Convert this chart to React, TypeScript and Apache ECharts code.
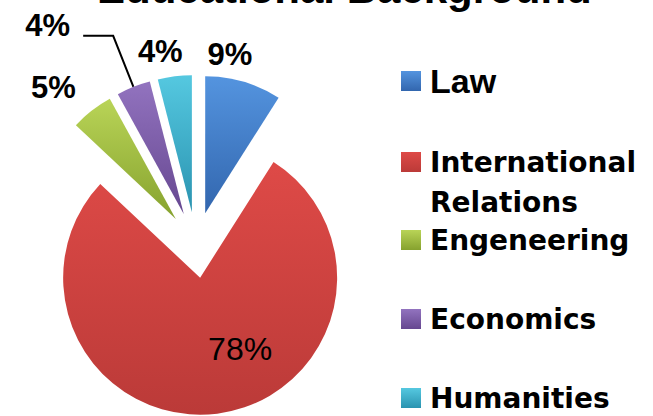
import React, { useEffect, useRef } from 'react';
import * as echarts from 'echarts';

const titleText = 'Educational Background';
const categories = ['Law', 'International Relations', 'Engeneering', 'Economics', 'Humanities'];
const values = [9, 78, 5, 4, 4];

const lightColors = ['#5494df', '#de4a47', '#b9d457', '#9273bf', '#55c8e0'];
const darkColors = ['#3266ae', '#bb3a38', '#86a22e', '#664790', '#2a93b0'];

export default function App() {
  const ref = useRef<HTMLDivElement>(null);
  useEffect(() => {
    const chart = echarts.init(ref.current as HTMLDivElement, null, { renderer: 'svg' });
    const grad = (i: number) =>
      new echarts.graphic.LinearGradient(0, 0, 0, 1, [
        { offset: 0, color: lightColors[i] },
        { offset: 1, color: darkColors[i] },
      ]);
    const labelShift = [[-41, -27], [31, 0], [-11, -23], [0, -10], [13, -25]];
    const data = categories.map((name, i) => {
      const item: any = { name, value: values[i], selected: true, itemStyle: { color: grad(i) } };
      if (i === 1) {
        item.label = { position: 'inside', fontWeight: 'normal', fontSize: 32 };
      } else if (i === 3) {
        item.label = { distanceToLabelLine: 13 };
        item.labelLine = { show: true, length: 55, length2: 30, lineStyle: { color: '#000', width: 2 } };
      } else {
        item.labelLine = { show: false, length: 0, length2: 0 };
      }
      return item;
    });
    const legendTops = [61, 102, 220, 299, 378];
    const legends = categories.map((name, i) => ({
      data: [name],
      orient: 'vertical',
      left: 401,
      top: legendTops[i],
      padding: 0,
      itemWidth: 20,
      itemHeight: 20,
      icon: 'rect',
      selectedMode: false,
      formatter: (n: string) => (n === 'International Relations' ? '\nInternational\nRelations' : n),
      textStyle:
        i === 0
          ? { fontFamily: 'Liberation Sans', fontWeight: 'bold', fontSize: 34, lineHeight: 40, color: '#000', padding: [0, 0, 0, 4] }
          : {
              fontFamily: 'DejaVu Sans',
              fontWeight: 'bold',
              fontSize: 28,
              lineHeight: 40,
              color: '#000',
              padding: [0, 0, 0, 4],
            },
    }));
    chart.setOption({
      animation: false,
      backgroundColor: '#fff',
      title: {
        text: titleText,
        left: 97,
        top: -33,
        padding: 0,
        textStyle: { fontFamily: 'Liberation Sans', fontWeight: 'bold', fontSize: 42, color: '#000' },
      },
      legend: legends,
      series: [
        {
          type: 'pie',
          center: [196, 245],
          radius: 137,
          startAngle: 90,
          clockwise: true,
          selectedMode: 'multiple',
          selectedOffset: 33,
          avoidLabelOverlap: false,
          emphasis: { disabled: true },
          label: {
            show: true,
            position: 'outside',
            formatter: '{c}%',
            fontFamily: 'Liberation Sans',
            fontWeight: 'bold',
            fontSize: 31,
            color: '#000',
          },
          labelLayout: (params: any) => {
            const s = labelShift[params.dataIndex];
            return { dx: s[0], dy: s[1] };
          },
          data,
        },
      ],
    });
    return () => chart.dispose();
  }, []);
  return <div ref={ref} style={{ position: 'fixed', left: 0, top: 0, width: 653, height: 416 }} />;
}
